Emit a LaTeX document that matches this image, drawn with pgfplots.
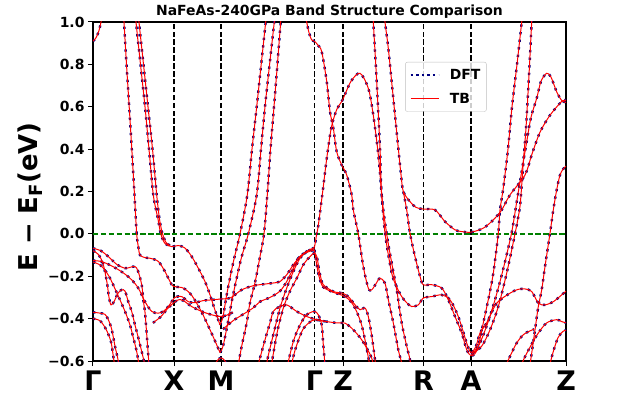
\documentclass[border=0pt]{standalone}
\usepackage{pgfplots}
\pgfplotsset{compat=1.18}
\usepackage{pgfplotstable}
\usepackage{fontspec}
\setmainfont{DejaVu Sans}
\definecolor{dftnavy}{RGB}{0,0,128}
\definecolor{efgreen}{RGB}{0,128,0}

\pgfplotstableread{
x y
0 0.91
3 0.925
6 0.96
9 1.02
11 1.06
}\sA
\pgfplotstableread{
x y
30.4 1.05
31 1.0
33.5 0.8
36.2 0.6
38.8 0.4
41.3 0.2
43.7 0.0
45.3 -0.06
47 -0.1
52 -0.112
57 -0.115
65.3 -0.13
72 -0.178
78.7 -0.24
82 -0.249
90.3 -0.256
98.7 -0.29
108.7 -0.37
118.7 -0.47
127 -0.56
}\sB
\pgfplotstableread{
x y
42.4 1.05
43 1.0
47.5 0.8
52 0.6
56 0.4
60.3 0.184
65 0.07
67.8 0.0
72 -0.045
78.7 -0.06
85.3 -0.055
92 -0.067
98.7 -0.107
105.3 -0.162
112 -0.225
117 -0.288
122 -0.36
127 -0.43
}\sC
\pgfplotstableread{
x y
45.4 1.05
46 1.0
50.5 0.8
55 0.6
59.5 0.4
63.7 0.184
66.5 0.07
69.5 0.0
73 -0.04
77 -0.055
}\sD
\pgfplotstableread{
x y
127 -0.43
130 -0.39
134 -0.28
140 -0.14
147 0.0
154.3 0.184
159 0.4
163.7 0.6
168.2 0.8
172.7 1.0
173.8 1.05
}\sE
\pgfplotstableread{
x y
127 -0.56
130 -0.53
134 -0.44
140 -0.29
148 -0.12
155.3 0.0
163.7 0.184
168 0.4
172 0.6
176.6 0.8
181.3 1.0
182.5 1.05
}\sF
\pgfplotstableread{
x y
144 -0.65
148.7 -0.53
153.7 -0.42
157 -0.325
162 -0.23
167 -0.107
171 0.0
174.3 0.184
177.5 0.4
181 0.6
184.4 0.8
187.7 1.0
188.5 1.05
}\sG
\pgfplotstableread{
x y
0 -0.126
8 -0.13
16 -0.145
24 -0.165
32 -0.19
38.7 -0.217
45.3 -0.256
52 -0.32
58.7 -0.366
65.3 -0.374
70.3 -0.366
75.3 -0.343
82 -0.30
88.7 -0.296
95.3 -0.32
102 -0.325
110 -0.315
120 -0.311
128.7 -0.307
135.3 -0.305
140 -0.295
148.7 -0.264
160 -0.245
170 -0.238
180 -0.232
187 -0.225
193.7 -0.193
200.3 -0.146
207 -0.107
213.7 -0.083
221.5 -0.068
}\sH
\pgfplotstableread{
x y
0 -0.068
8 -0.08
16 -0.11
24 -0.145
32 -0.162
37 -0.158
42 -0.154
45 -0.175
48.7 -0.24
50.5 -0.32
52 -0.37
53.5 -0.46
55 -0.555
56.5 -0.65
}\sI
\pgfplotstableread{
x y
0 -0.08
5 -0.095
10 -0.14
14 -0.23
16 -0.3
18 -0.335
21 -0.32
25 -0.28
28.7 -0.264
32 -0.27
35.3 -0.32
38.7 -0.366
42 -0.43
45.3 -0.49
48.7 -0.555
52 -0.62
53.5 -0.65
}\sJ
\pgfplotstableread{
x y
0 -0.133
8 -0.15
16 -0.2
24 -0.28
32 -0.366
37 -0.43
40.3 -0.49
43.7 -0.555
46 -0.62
47 -0.65
}\sK
\pgfplotstableread{
x y
0 -0.37
7 -0.374
12 -0.38
15.3 -0.405
18.7 -0.45
22 -0.53
25.3 -0.6
27 -0.65
}\sL
\pgfplotstableread{
x y
0 -0.40
7 -0.41
13 -0.45
18 -0.51
21 -0.6
23 -0.65
}\sM
\pgfplotstableread{
x y
60 -0.42
68 -0.39
75 -0.35
80.3 -0.327
85.3 -0.311
90.3 -0.315
98.7 -0.343
108.7 -0.366
118.7 -0.382
127 -0.39
133 -0.385
140 -0.37
}\sN
\pgfplotstableread{
x y
130 -0.45
140 -0.41
150 -0.38
160 -0.35
167 -0.32
177 -0.30
187 -0.27
193.7 -0.225
200.3 -0.162
205.3 -0.115
212 -0.091
221.5 -0.075
}\sO
\pgfplotstableread{
x y
172 -0.66
175 -0.58
180.3 -0.476
187 -0.35
193.7 -0.256
200.3 -0.178
207 -0.115
213.7 -0.083
219 -0.07
221.5 -0.06
223.7 0.0
225.3 0.04
229.7 0.2
232 0.29
235 0.4
238.7 0.51
244 0.59
249.3 0.63
258 0.72
267 0.758
275.3 0.687
280.3 0.56
285.3 0.373
288.7 0.184
292 0.003
298.7 -0.185
303.7 -0.25
308.7 -0.296
313.7 -0.325
318.7 -0.343
325.3 -0.335
330.3 -0.303
338.7 -0.296
348.7 -0.288
357 -0.311
365.3 -0.39
373.7 -0.515
378 -0.56
383 -0.53
387 -0.468
393.7 -0.42
403.7 -0.327
417 -0.28
425 -0.262
432 -0.26
438.7 -0.272
445.3 -0.327
452 -0.335
460.3 -0.32
468.7 -0.288
473 -0.27
}\sP
\pgfplotstableread{
x y
177 -0.66
183.7 -0.476
190.3 -0.35
197 -0.27
203.7 -0.21
210.3 -0.146
217 -0.107
221.3 -0.091
224 -0.11
226 -0.17
227.5 -0.2
230.3 -0.24
240.3 -0.272
249.3 -0.28
255.3 -0.296
262 -0.335
267 -0.358
272 -0.35
275.3 -0.39
278.7 -0.48
282 -0.594
283.5 -0.65
}\sR
\pgfplotstableread{
x y
221.5 -0.075
223.5 -0.14
226 -0.2
230 -0.25
240 -0.275
249.3 -0.29
256 -0.31
262 -0.35
268 -0.42
272 -0.5
276 -0.6
278 -0.65
}\sS
\pgfplotstableread{
x y
165 -0.62
172 -0.5
177 -0.42
180.3 -0.366
186 -0.345
193.7 -0.335
203.7 -0.366
213.7 -0.39
223.7 -0.405
233.7 -0.414
243.7 -0.42
249.3 -0.42
252 -0.421
258.7 -0.445
268.7 -0.5
278.7 -0.586
281 -0.65
}\sT
\pgfplotstableread{
x y
193 -0.65
200.3 -0.508
207 -0.43
213.7 -0.382
221.3 -0.366
225.3 -0.382
228.7 -0.43
230.3 -0.523
232 -0.62
232.7 -0.66
}\sU
\pgfplotstableread{
x y
197 -0.65
202 -0.55
210 -0.45
218.7 -0.41
222 -0.405
228 -0.41
235 -0.415
}\sV
\pgfplotstableread{
x y
212 1.05
213.7 1.0
216 0.95
218.7 0.915
222 0.907
225 0.89
228.7 0.86
233.7 0.72
237 0.577
240.3 0.5
243.7 0.388
248.7 0.325
253.7 0.278
258.7 0.184
260.3 0.113
265.3 0.0
270.3 -0.154
275.3 -0.256
278.7 -0.264
283 -0.235
287 -0.209
292 -0.233
295.3 -0.31
300.3 -0.42
305.3 -0.547
308.7 -0.61
310 -0.65
}\sW
\pgfplotstableread{
x y
279.8 1.05
280.3 1.0
283.7 0.72
287 0.404
288.7 0.184
293.7 0.0
298.7 -0.137
303.7 -0.264
308.7 -0.42
313.7 -0.53
317 -0.594
318 -0.65
}\sY
\pgfplotstableread{
x y
291.6 1.05
292 1.0
295.3 0.876
300.3 0.64
305.3 0.404
308 0.28
310.3 0.2
317 0.152
323 0.125
330.3 0.117
342 0.113
352 0.058
362 0.019
368.7 0.011
378 0.008
390.3 0.027
400.3 0.066
408.7 0.113
417 0.184
432 0.278
438.7 0.373
447 0.48
457 0.56
468.7 0.625
473 0.63
}\sZa
\pgfplotstableread{
x y
310.3 0.2
313.7 0.113
317 0.003
322 -0.107
327 -0.2
330.3 -0.24
338.7 -0.24
348.7 -0.256
355.3 -0.311
362 -0.39
368.7 -0.468
373.7 -0.547
378 -0.575
382 -0.565
385.3 -0.53
390.3 -0.42
395.3 -0.31
400.3 -0.186
405.3 0.003
407 0.113
410.3 0.217
415 0.4
419 0.6
424 0.8
428.7 1.0
429.5 1.05
}\sZb
\pgfplotstableread{
x y
378.5 -0.57
386 -0.524
394 -0.43
402 -0.311
410 -0.17
418.5 0.003
424 0.16
428.7 0.295
433.7 0.435
438 0.55
443.7 0.64
448 0.72
453.7 0.758
458 0.74
463.7 0.67
468.7 0.63
473 0.62
}\sPk
\pgfplotstableread{
x y
379.5 -0.563
388.7 -0.53
397 -0.453
405.3 -0.343
413.7 -0.185
422 0.0
426.5 0.113
428 0.184
430.5 0.35
433 0.5
436 0.75
438.7 1.0
439.5 1.05
}\sAa
\pgfplotstableread{
x y
436 -0.65
438.7 -0.563
442 -0.453
445.3 -0.343
448.7 -0.264
452 -0.154
457 0.003
460.3 0.113
463.7 0.208
467 0.278
470 0.305
473 0.32
}\sLb
\pgfplotstableread{
x y
425 -0.65
432 -0.58
438.7 -0.52
445.3 -0.468
453.7 -0.42
463.7 -0.405
468.7 -0.414
473 -0.42
}\sLc
\pgfplotstableread{
x y
410 -0.65
417 -0.578
423.7 -0.515
430.3 -0.476
436 -0.46
441 -0.45
}\sLd
\pgfplotstableread{
x y
455 -0.65
460 -0.56
465 -0.49
470 -0.46
473 -0.455
}\sLe
\pgfplotstableread{
x y
118 -0.65
124 -0.6
128 -0.585
132 -0.6
138 -0.65
}\sMb

\begin{document}
\begin{tikzpicture}
\path[use as bounding box] (-93bp,-39bp) rectangle (532bp,361bp);
\begin{axis}[
  at={(0,0)}, anchor=south west,
  scale only axis, width=473bp, height=339bp,
  xmin=0, xmax=473, ymin=-0.6, ymax=1.0,
  xtick={0,81,128,221.5,250,330.5,378,473},
  xticklabels={Γ,X,M,Γ,Z,R,A,Z},
  ytick={-0.6,-0.4,-0.2,0,0.2,0.4,0.6,0.8,1.0},
  yticklabels={−0.6,−0.4,−0.2,0.0,0.2,0.4,0.6,0.8,1.0},
  xtick pos=bottom, ytick pos=left, tick align=outside,
  major tick length=5bp,
  tick style={black, line width=1bp},
  axis line style={black, line width=1.3bp},
  x tick label style={font=\bfseries\fontsize{27}{29}\selectfont, yshift=-1bp},
  y tick label style={font=\bfseries\fontsize{14}{16}\selectfont},
  xmajorgrids=true,
  major x grid style={black, line width=1.1bp, dash pattern=on 5.5bp off 2.4bp},
  title={NaFeAs-240GPa Band Structure Comparison},
  title style={font=\bfseries\fontsize{14}{16}\selectfont, at={(0.5,1)}, anchor=base, yshift=1bp},
  ylabel={E − E\textsubscript{F}(eV)},
  ylabel style={font=\bfseries\fontsize{26}{28}\selectfont, at={(axis description cs:-0.133,0.484)}, anchor=center},
  dft/.style={dftnavy, line width=2.4bp, dash pattern=on 2.4bp off 5.2bp, smooth, forget plot},
  tb/.style={red, line width=1bp, smooth, forget plot},
  legend image code/.code={\draw[#1] (0bp,0bp) -- (28bp,0bp); \path (36bp,0bp);},
  legend style={at={(0.66,0.882)}, anchor=north west, font=\bfseries\fontsize{14}{16}\selectfont,
    draw=black!25, rounded corners=2bp, fill=white, fill opacity=0.8, text opacity=1,
    inner xsep=4bp, inner ysep=5bp, row sep=8bp},
  legend cell align=left,
]
\addplot[efgreen, line width=1.3bp, dash pattern=on 5.5bp off 2.4bp, forget plot] coordinates {(0,0) (473,0)};
\addplot[dft] table {\sA};
\addplot[dft] table {\sB};
\addplot[dft] table {\sC};
\addplot[dft] table {\sD};
\addplot[dft] table {\sE};
\addplot[dft] table {\sF};
\addplot[dft] table {\sG};
\addplot[dft] table {\sH};
\addplot[dft] table {\sI};
\addplot[dft] table {\sJ};
\addplot[dft] table {\sK};
\addplot[dft] table {\sL};
\addplot[dft] table {\sM};
\addplot[dft] table {\sN};
\addplot[dft] table {\sO};
\addplot[dft] table {\sP};
\addplot[dft] table {\sR};
\addplot[dft] table {\sS};
\addplot[dft] table {\sT};
\addplot[dft] table {\sU};
\addplot[dft] table {\sV};
\addplot[dft] table {\sW};
\addplot[dft] table {\sY};
\addplot[dft] table {\sZa};
\addplot[dft] table {\sZb};
\addplot[dft] table {\sPk};
\addplot[dft] table {\sAa};
\addplot[dft] table {\sLb};
\addplot[dft] table {\sLc};
\addplot[dft] table {\sLd};
\addplot[dft] table {\sLe};
\addplot[dft] table {\sMb};
\addplot[tb] table {\sA};
\addplot[tb] table {\sB};
\addplot[tb] table {\sC};
\addplot[tb] table {\sD};
\addplot[tb] table {\sE};
\addplot[tb] table {\sF};
\addplot[tb] table {\sG};
\addplot[tb] table {\sH};
\addplot[tb] table {\sI};
\addplot[tb] table {\sJ};
\addplot[tb] table {\sK};
\addplot[tb] table {\sL};
\addplot[tb] table {\sM};
\addplot[tb] table {\sN};
\addplot[tb] table {\sO};
\addplot[tb] table {\sP};
\addplot[tb] table {\sR};
\addplot[tb] table {\sS};
\addplot[tb] table {\sT};
\addplot[tb] table {\sU};
\addplot[tb] table {\sV};
\addplot[tb] table {\sW};
\addplot[tb] table {\sY};
\addplot[tb] table {\sZa};
\addplot[tb] table {\sZb};
\addplot[tb] table {\sPk};
\addplot[tb] table {\sAa};
\addplot[tb] table {\sLb};
\addplot[tb] table {\sLc};
\addplot[tb] table {\sLd};
\addplot[tb] table {\sLe};
\addplot[tb] table {\sMb};
\addlegendimage{dftnavy, line width=2.4bp, dash pattern=on 2.4bp off 3.2bp}
\addlegendentry{DFT}
\addlegendimage{red, line width=1bp}
\addlegendentry{TB}
\node[font=\bfseries\fontsize{26}{28}\selectfont, anchor=west, inner sep=0pt, xshift=4bp] at (axis cs:473,0) {E\textsubscript{F}};
\end{axis}
\end{tikzpicture}
\end{document}
